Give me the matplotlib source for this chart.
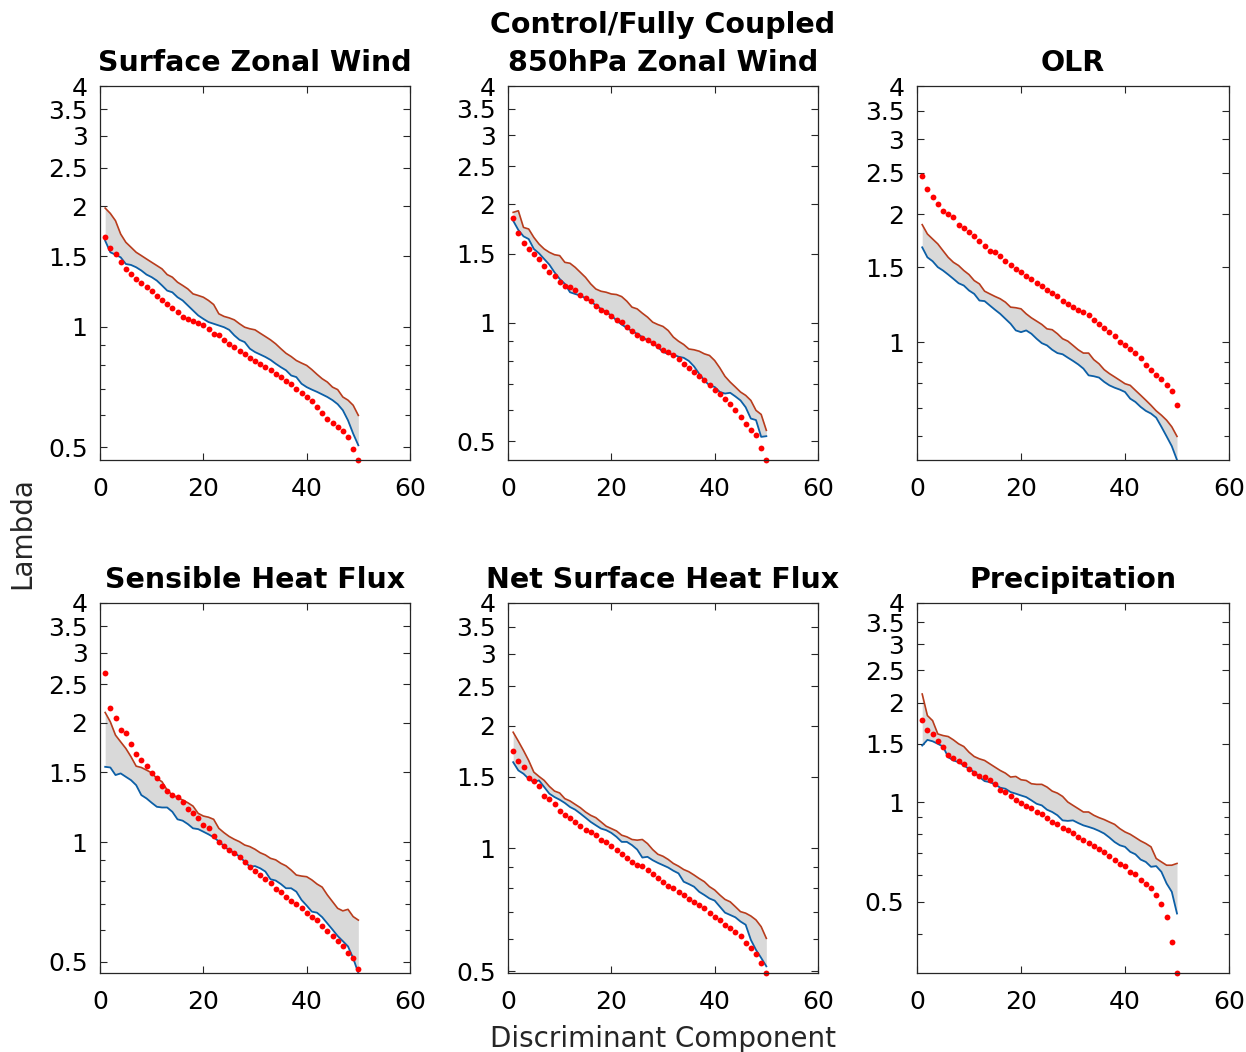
import numpy as np
import matplotlib
matplotlib.use("Agg")
import matplotlib.pyplot as plt
from matplotlib.ticker import FixedLocator, LogLocator, NullFormatter

# discriminant component index
comp = np.arange(1, 51)

titles = ["Surface Zonal Wind", "Control/Fully Coupled\n850hPa Zonal Wind", "OLR",
          "Sensible Heat Flux", "Net Surface Heat Flux", "Precipitation"]

# Surface Zonal Wind
sfc_lambda = [1.673, 1.574, 1.52, 1.449, 1.394, 1.355, 1.318, 1.284, 1.255, 1.231,
              1.196, 1.167, 1.140, 1.114, 1.087, 1.060, 1.046, 1.032, 1.020, 1.011,
              0.988, 0.960, 0.951, 0.927, 0.906, 0.889, 0.869, 0.852, 0.836, 0.820,
              0.805, 0.792, 0.778, 0.763, 0.749, 0.731, 0.718, 0.700, 0.683, 0.667,
              0.651, 0.630, 0.608, 0.589, 0.575, 0.561, 0.548, 0.530, 0.494, 0.464]
sfc_lo = [1.641, 1.535, 1.514, 1.491, 1.435, 1.427, 1.408, 1.382, 1.350, 1.330,
          1.304, 1.268, 1.231, 1.219, 1.185, 1.163, 1.130, 1.098, 1.067, 1.046,
          1.027, 1.017, 1.007, 0.997, 0.982, 0.951, 0.927, 0.915, 0.881, 0.864,
          0.852, 0.840, 0.826, 0.808, 0.792, 0.778, 0.755, 0.748, 0.720, 0.706,
          0.696, 0.687, 0.677, 0.667, 0.655, 0.640, 0.618, 0.583, 0.540, 0.505]
sfc_hi = [1.980, 1.920, 1.841, 1.705, 1.626, 1.580, 1.535, 1.506, 1.477, 1.449,
          1.422, 1.395, 1.350, 1.330, 1.292, 1.268, 1.243, 1.208, 1.197, 1.185,
          1.163, 1.136, 1.077, 1.061, 1.052, 1.040, 1.017, 0.997, 0.988, 0.982,
          0.963, 0.945, 0.927, 0.906, 0.881, 0.858, 0.842, 0.823, 0.811, 0.800,
          0.781, 0.760, 0.741, 0.727, 0.706, 0.696, 0.667, 0.655, 0.636, 0.600]

# 850hPa Zonal Wind
u850_lambda = [1.846, 1.692, 1.596, 1.541, 1.496, 1.450, 1.398, 1.344, 1.313, 1.268,
               1.244, 1.232, 1.213, 1.178, 1.155, 1.133, 1.102, 1.079, 1.064, 1.040,
               1.018, 1.004, 0.975, 0.956, 0.932, 0.914, 0.902, 0.888, 0.871, 0.854,
               0.843, 0.829, 0.809, 0.787, 0.768, 0.750, 0.731, 0.714, 0.693, 0.676,
               0.658, 0.642, 0.621, 0.599, 0.576, 0.554, 0.535, 0.518, 0.482, 0.448]
u850_lo = [1.818, 1.722, 1.659, 1.633, 1.541, 1.502, 1.453, 1.406, 1.344, 1.293,
           1.256, 1.196, 1.184, 1.173, 1.155, 1.135, 1.107, 1.085, 1.064, 1.044,
           1.014, 0.990, 0.971, 0.952, 0.938, 0.920, 0.902, 0.888, 0.868, 0.843,
           0.834, 0.831, 0.820, 0.815, 0.800, 0.775, 0.742, 0.714, 0.693, 0.687,
           0.667, 0.661, 0.664, 0.650, 0.635, 0.610, 0.571, 0.566, 0.513, 0.515]
u850_hi = [1.909, 1.927, 1.748, 1.732, 1.649, 1.586, 1.541, 1.511, 1.490, 1.482,
           1.425, 1.417, 1.384, 1.344, 1.305, 1.256, 1.219, 1.203, 1.196, 1.184,
           1.180, 1.166, 1.135, 1.096, 1.085, 1.058, 1.034, 1.004, 0.990, 0.979,
           0.956, 0.920, 0.898, 0.881, 0.858, 0.854, 0.847, 0.834, 0.826, 0.802,
           0.768, 0.731, 0.707, 0.687, 0.667, 0.654, 0.635, 0.599, 0.585, 0.533]

# OLR
olr_lambda = [2.460, 2.289, 2.196, 2.111, 2.036, 2.000, 1.964, 1.888, 1.854, 1.812,
              1.779, 1.732, 1.685, 1.640, 1.626, 1.597, 1.554, 1.521, 1.486, 1.460,
              1.433, 1.408, 1.375, 1.358, 1.327, 1.303, 1.280, 1.252, 1.230, 1.208,
              1.191, 1.176, 1.155, 1.128, 1.104, 1.080, 1.055, 1.036, 1.000, 0.982,
              0.964, 0.942, 0.919, 0.882, 0.861, 0.835, 0.820, 0.791, 0.767, 0.710]
olr_lo = [1.670, 1.582, 1.549, 1.500, 1.473, 1.441, 1.408, 1.375, 1.358, 1.322,
          1.298, 1.252, 1.248, 1.219, 1.191, 1.165, 1.134, 1.104, 1.065, 1.055,
          1.065, 1.046, 1.018, 0.994, 0.982, 0.959, 0.942, 0.936, 0.919, 0.903,
          0.886, 0.866, 0.835, 0.831, 0.825, 0.806, 0.791, 0.781, 0.773, 0.763,
          0.736, 0.723, 0.704, 0.689, 0.679, 0.664, 0.632, 0.600, 0.569, 0.528]
olr_hi = [1.888, 1.795, 1.747, 1.701, 1.640, 1.582, 1.540, 1.513, 1.473, 1.441,
          1.395, 1.370, 1.317, 1.298, 1.280, 1.264, 1.241, 1.208, 1.204, 1.197,
          1.165, 1.140, 1.120, 1.100, 1.074, 1.069, 1.046, 1.018, 1.005, 0.982,
          0.959, 0.942, 0.942, 0.909, 0.889, 0.861, 0.843, 0.828, 0.813, 0.798,
          0.791, 0.770, 0.750, 0.730, 0.710, 0.689, 0.673, 0.655, 0.632, 0.600]

# Sensible Heat Flux
shf_lambda = [2.672, 2.182, 2.055, 1.913, 1.884, 1.764, 1.665, 1.608, 1.553, 1.494,
              1.446, 1.386, 1.344, 1.313, 1.296, 1.258, 1.208, 1.181, 1.147, 1.104,
              1.083, 1.035, 1.002, 0.977, 0.955, 0.940, 0.919, 0.893, 0.867, 0.847,
              0.826, 0.806, 0.787, 0.760, 0.750, 0.729, 0.712, 0.698, 0.681, 0.664,
              0.647, 0.637, 0.615, 0.598, 0.580, 0.565, 0.546, 0.527, 0.510, 0.478]
shf_lo = [1.547, 1.541, 1.475, 1.489, 1.460, 1.432, 1.391, 1.313, 1.288, 1.256,
          1.227, 1.222, 1.222, 1.192, 1.141, 1.132, 1.110, 1.083, 1.078, 1.062,
          1.046, 1.028, 1.004, 0.977, 0.953, 0.940, 0.919, 0.893, 0.867, 0.870,
          0.859, 0.843, 0.806, 0.800, 0.784, 0.765, 0.765, 0.750, 0.715, 0.692,
          0.668, 0.664, 0.647, 0.624, 0.602, 0.580, 0.563, 0.546, 0.510, 0.468]
shf_hi = [2.120, 2.008, 1.859, 1.788, 1.721, 1.640, 1.553, 1.541, 1.518, 1.494,
          1.446, 1.419, 1.352, 1.313, 1.296, 1.276, 1.256, 1.232, 1.181, 1.163,
          1.155, 1.141, 1.083, 1.056, 1.033, 1.016, 1.002, 0.983, 0.974, 0.959,
          0.940, 0.928, 0.910, 0.902, 0.884, 0.871, 0.850, 0.826, 0.821, 0.818,
          0.803, 0.784, 0.770, 0.736, 0.708, 0.681, 0.671, 0.677, 0.649, 0.636]

# Net Surface Heat Flux
nhf_lambda = [1.739, 1.638, 1.583, 1.491, 1.460, 1.420, 1.342, 1.320, 1.288, 1.233,
              1.206, 1.188, 1.162, 1.134, 1.113, 1.098, 1.078, 1.048, 1.038, 1.013,
              0.994, 0.972, 0.950, 0.928, 0.910, 0.905, 0.885, 0.865, 0.848, 0.829,
              0.809, 0.798, 0.783, 0.769, 0.750, 0.740, 0.727, 0.713, 0.696, 0.678,
              0.668, 0.650, 0.637, 0.625, 0.611, 0.588, 0.570, 0.552, 0.523, 0.495]
nhf_lo = [1.628, 1.554, 1.525, 1.482, 1.455, 1.469, 1.415, 1.363, 1.337, 1.317,
          1.293, 1.264, 1.245, 1.218, 1.190, 1.162, 1.140, 1.119, 1.109, 1.092,
          1.068, 1.038, 1.038, 1.019, 0.994, 0.950, 0.954, 0.936, 0.922, 0.910,
          0.898, 0.882, 0.869, 0.829, 0.818, 0.806, 0.783, 0.769, 0.754, 0.745,
          0.720, 0.696, 0.687, 0.678, 0.662, 0.650, 0.597, 0.564, 0.539, 0.514]
nhf_hi = [1.928, 1.833, 1.739, 1.644, 1.539, 1.502, 1.469, 1.420, 1.383, 1.368,
          1.325, 1.308, 1.283, 1.259, 1.229, 1.206, 1.190, 1.162, 1.134, 1.119,
          1.104, 1.078, 1.068, 1.052, 1.048, 1.052, 1.028, 0.994, 0.968, 0.957,
          0.940, 0.919, 0.905, 0.888, 0.877, 0.861, 0.844, 0.829, 0.806, 0.791,
          0.769, 0.750, 0.740, 0.720, 0.700, 0.694, 0.683, 0.668, 0.643, 0.602]

# Precipitation
pr_lambda = [1.771, 1.653, 1.607, 1.535, 1.465, 1.392, 1.361, 1.329, 1.299, 1.260,
             1.223, 1.203, 1.190, 1.168, 1.136, 1.089, 1.072, 1.040, 1.012, 0.993,
             0.970, 0.961, 0.933, 0.918, 0.897, 0.870, 0.860, 0.837, 0.825, 0.806,
             0.784, 0.770, 0.752, 0.735, 0.723, 0.707, 0.686, 0.667, 0.649, 0.640,
             0.615, 0.605, 0.583, 0.565, 0.548, 0.523, 0.491, 0.450, 0.376, 0.304]
pr_lo = [1.482, 1.542, 1.527, 1.500, 1.472, 1.367, 1.336, 1.320, 1.290, 1.260,
         1.232, 1.190, 1.157, 1.149, 1.131, 1.105, 1.097, 1.072, 1.060, 1.047,
         1.035, 1.012, 0.988, 0.977, 0.948, 0.933, 0.912, 0.880, 0.877, 0.880,
         0.864, 0.850, 0.841, 0.831, 0.818, 0.803, 0.781, 0.757, 0.740, 0.732,
         0.707, 0.695, 0.670, 0.659, 0.637, 0.640, 0.615, 0.567, 0.535, 0.460]
pr_hi = [2.122, 1.826, 1.763, 1.607, 1.589, 1.578, 1.542, 1.500, 1.472, 1.415,
         1.373, 1.351, 1.336, 1.305, 1.275, 1.246, 1.223, 1.190, 1.195, 1.168,
         1.162, 1.136, 1.131, 1.131, 1.110, 1.079, 1.064, 1.040, 1.000, 0.977,
         0.955, 0.933, 0.933, 0.912, 0.897, 0.885, 0.870, 0.856, 0.831, 0.812,
         0.799, 0.781, 0.763, 0.749, 0.732, 0.675, 0.659, 0.644, 0.644, 0.652]

panels = [(sfc_lambda, sfc_lo, sfc_hi), (u850_lambda, u850_lo, u850_hi),
          (olr_lambda, olr_lo, olr_hi), (shf_lambda, shf_lo, shf_hi),
          (nhf_lambda, nhf_lo, nhf_hi), (pr_lambda, pr_lo, pr_hi)]

yticks = [0.5, 1, 1.5, 2, 2.5, 3, 3.5, 4]
ytick_labels = ["0.5", "1", "1.5", "2", "2.5", "3", "3.5", "4"]
xticks = [0, 20, 40, 60]

W, H = 1246, 1052
lefts = [100, 508, 917]
widths = [310, 310, 312]
tops = [86, 603]
heights = [374, 370]

blue = "#0c5fa6"
brown = "#b83c1c"
axcol = "#262626"

plt.rcParams["font.family"] = ["DejaVu Sans"]
fig = plt.figure(figsize=(W / 100, H / 100), dpi=100)

for k, (lam, lo, hi) in enumerate(panels):
    r, c = divmod(k, 3)
    ax = fig.add_axes([lefts[c] / W, 1 - (tops[r] + heights[r]) / H,
                       widths[c] / W, heights[r] / H])
    ax.fill_between(comp, lo, hi, color="#d9d9d9", lw=0)
    ax.plot(comp, lo, color=blue, lw=1.3)
    ax.plot(comp, hi, color=brown, lw=1.2)
    ax.plot(comp, lam, "o", color="red", ms=4.2, mec="none", clip_on=False)

    ax.set_yscale("log")
    ax.set_xlim(0, 60)
    ax.set_ylim(min(min(lam), min(lo), min(hi)), 4)
    ax.set_xticks(xticks)
    ax.yaxis.set_major_locator(FixedLocator(yticks))
    ax.set_yticklabels(ytick_labels)
    ax.yaxis.set_minor_locator(LogLocator(base=10, subs=np.arange(2, 10)))
    ax.yaxis.set_minor_formatter(NullFormatter())

    ax.tick_params(which="both", direction="in", top=True, right=True,
                   color=axcol, width=0.8)
    ax.tick_params(which="major", length=5, labelsize=18)
    ax.tick_params(axis="x", which="major", pad=12)
    ax.tick_params(axis="y", which="major", pad=9)
    ax.tick_params(which="minor", length=3.5)
    for s in ax.spines.values():
        s.set_color(axcol)
        s.set_linewidth(0.9)

    ax.set_title(titles[k], fontsize=20.5, fontweight="bold", pad=11, linespacing=1.45)

fig.text(22 / W, 1 - 533 / H, "Lambda", rotation=90, fontsize=20,
         ha="center", va="center", color="#262626")
fig.text(663 / W, 1 - 1039 / H, "Discriminant Component", fontsize=20,
         ha="center", va="center", color="#262626")

fig.savefig("out.png", dpi=100)
